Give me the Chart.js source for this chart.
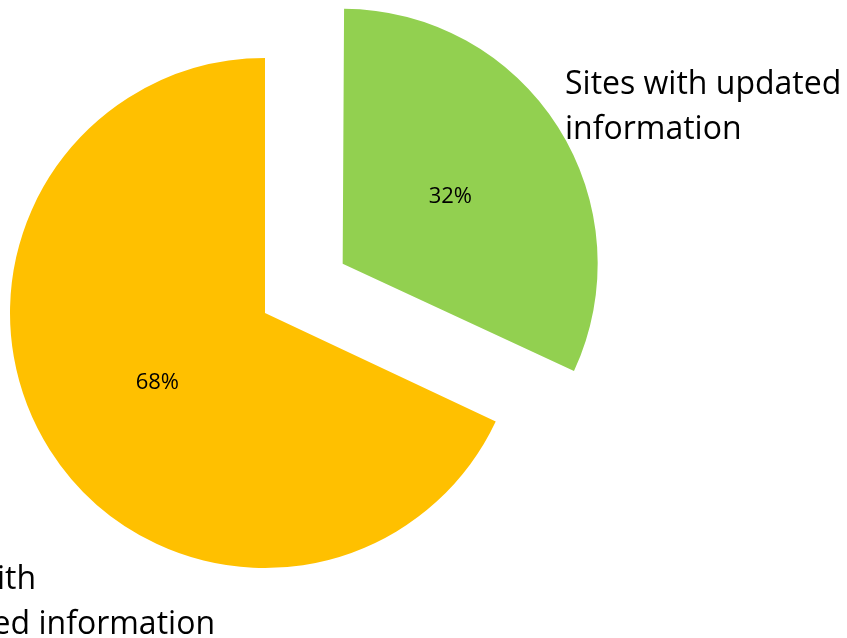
<!DOCTYPE html>
<html lang="en">
<head>
<meta charset="UTF-8">
<title>Sites with updated information</title>
<script src="https://cdn.jsdelivr.net/npm/chart.js"></script>
<style>
    html, body { margin: 0; padding: 0; background: #ffffff; }
    #wrap { position: relative; width: 847px; height: 638px; }
</style>
</head>
<body>
<div id="wrap"><canvas id="pie"></canvas></div>
<script>
// data
const categories = [
    ['Sites with updated', 'information'],
    ['Sites with', 'outdated information']
];
const shares = [32, 68];

// Chart.js grows a pulled-out slice a little when it is narrower than half a turn;
// undo that so both slices keep the same radius
function growth(arc) {
    const shift = (arc.options.offset || 0) / 4;
    const span = arc.endAngle - arc.startAngle;
    return shift * (1 - Math.sin(Math.min(Math.PI, span)));
}

const sameRadius = {
    id: 'sameRadius',
    afterDatasetsUpdate(chart) {
        chart.getDatasetMeta(0).data.forEach(arc => {
            arc.outerRadius -= growth(arc);
        });
    }
};

// percentage inside each slice, half way out along its middle
const pctLabels = {
    id: 'pctLabels',
    afterDatasetsDraw(chart) {
        const ctx = chart.ctx;
        const total = shares.reduce((a, b) => a + b, 0);
        ctx.save();
        ctx.font = '22px "Open Sans"';
        ctx.fillStyle = '#000000';
        ctx.textAlign = 'center';
        ctx.textBaseline = 'middle';
        chart.getDatasetMeta(0).data.forEach((arc, i) => {
            const mid = (arc.startAngle + arc.endAngle) / 2;
            const shift = (arc.options.offset || 0) / 4;
            const d = (arc.outerRadius + growth(arc)) / 2 + shift;
            const pct = Math.round(shares[i] / total * 100) + '%';
            ctx.fillText(pct, arc.x + Math.cos(mid) * d, arc.y + Math.sin(mid) * d + 1);
        });
        ctx.restore();
    }
};

// category names outside the pie
const catLabels = {
    id: 'catLabels',
    afterDraw(chart) {
        const ctx = chart.ctx;
        ctx.save();
        ctx.font = '32px "Open Sans"';
        ctx.fillStyle = '#000000';
        ctx.textAlign = 'left';
        ctx.textBaseline = 'alphabetic';
        const lh = 45;
        // top right, next to the green slice
        categories[0].forEach((line, k) => ctx.fillText(line, 565, 94 + k * lh));
        // bottom left, runs off the left edge like the original
        const last = categories[1][categories[1].length - 1];
        const x0 = 215 - ctx.measureText(last).width;
        categories[1].forEach((line, k) => ctx.fillText(line, x0, 589 + k * lh));
        ctx.restore();
    }
};

new Chart(document.getElementById('pie'), {
    type: 'pie',
    data: {
        labels: categories,
        datasets: [{
            data: shares,
            backgroundColor: ['#92D050', '#FFC000'],
            borderWidth: 0,
            offset: [368, 0]
        }]
    },
    options: {
        responsive: true,
        maintainAspectRatio: false,
        animation: false,
        radius: 255,
        layout: { padding: { left: 0, right: 317, top: 0, bottom: 12 } },
        plugins: {
            legend: { display: false },
            tooltip: { enabled: false }
        }
    },
    plugins: [sameRadius, pctLabels, catLabels]
});
</script>
</body>
</html>
